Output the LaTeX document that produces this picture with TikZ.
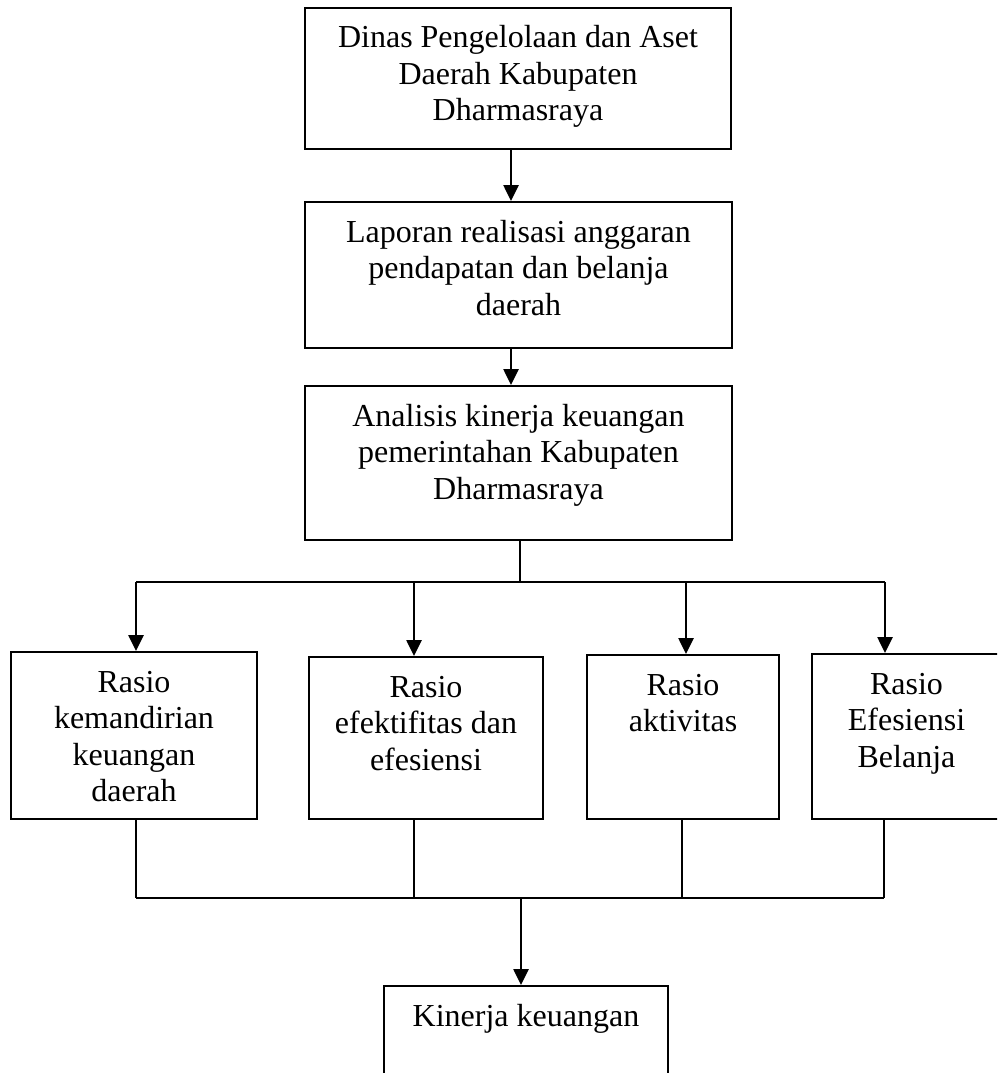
\documentclass[tikz,border=0pt]{standalone}
\usepackage{fontspec}
\setmainfont{Liberation Serif}
\usetikzlibrary{arrows.meta}
\tikzset{
  box/.style={draw, line width=2pt, inner xsep=5pt, inner ysep=0pt, align=flush center,
    font=\fontsize{32}{36.5}\selectfont, text height=40pt, anchor=north west},
  link/.style={line width=2pt},
  arr/.style={line width=2.6pt, -{Triangle[length=16pt,width=15pt]}},
}
\begin{document}
\begin{tikzpicture}[x=1pt,y=-1pt]
\useasboundingbox (0,0) rectangle (997,1073);
\fill[white] (0,0) rectangle (997,1073);
\clip (0,0) rectangle (997,1073);
% boxes
\node[box, text width=416pt, text depth=101pt] (b1) at (304,7)
  {Dinas Pengelolaan dan Aset\\Daerah Kabupaten\\Dharmasraya};
\node[box, text width=417pt, text depth=106pt] (b2) at (304,201)
  {Laporan realisasi anggaran\\pendapatan dan belanja\\daerah};
\node[box, text width=417pt, text depth=114pt] (b3) at (304,385)
  {Analisis kinerja keuangan\\pemerintahan Kabupaten\\Dharmasraya};
\node[box, text width=236pt, text depth=127pt] (b4) at (10,651)
  {Rasio\\kemandirian\\keuangan\\daerah};
\node[box, text width=224pt, text depth=122pt] (b5) at (308,656)
  {Rasio\\efektifitas dan\\efesiensi};
\node[box, text width=182pt, text depth=124pt] (b6) at (586,654)
  {Rasio\\aktivitas};
\node[box, text width=179pt, text depth=125pt] (b7) at (811,653)
  {Rasio\\Efesiensi\\Belanja};
\node[box, text width=274pt, text depth=75pt] (b8) at (383,985)
  {Kinerja keuangan};
% junction points
\coordinate (top) at (520,582);
\coordinate (bot) at (521,898);
\coordinate (t4) at (136,582);
\coordinate (t5) at (414,582);
\coordinate (t6) at (686,582);
\coordinate (t7) at (885,582);
\coordinate (u4) at (136,898);
\coordinate (u5) at (414,898);
\coordinate (u6) at (682,898);
\coordinate (u7) at (884,898);
% connectors
\draw[arr] ([xshift=-7pt]b1.south) -- ([xshift=-7.5pt]b2.north);
\draw[arr] ([xshift=-7.5pt]b2.south) -- ([xshift=-7.5pt]b3.north);
\draw[link] (b3.south -| top) -- (top);
\draw[link] (t4) -- (t7);
\foreach \i in {4,5,6,7}{
  \draw[arr] (t\i) -- (t\i |- b\i.north);
  \draw[link] (b\i.south -| u\i) -- (u\i);
}
\draw[link] (u4) -- (u7);
\draw[arr] (bot) -- (bot |- b8.north);
\end{tikzpicture}
\end{document}
